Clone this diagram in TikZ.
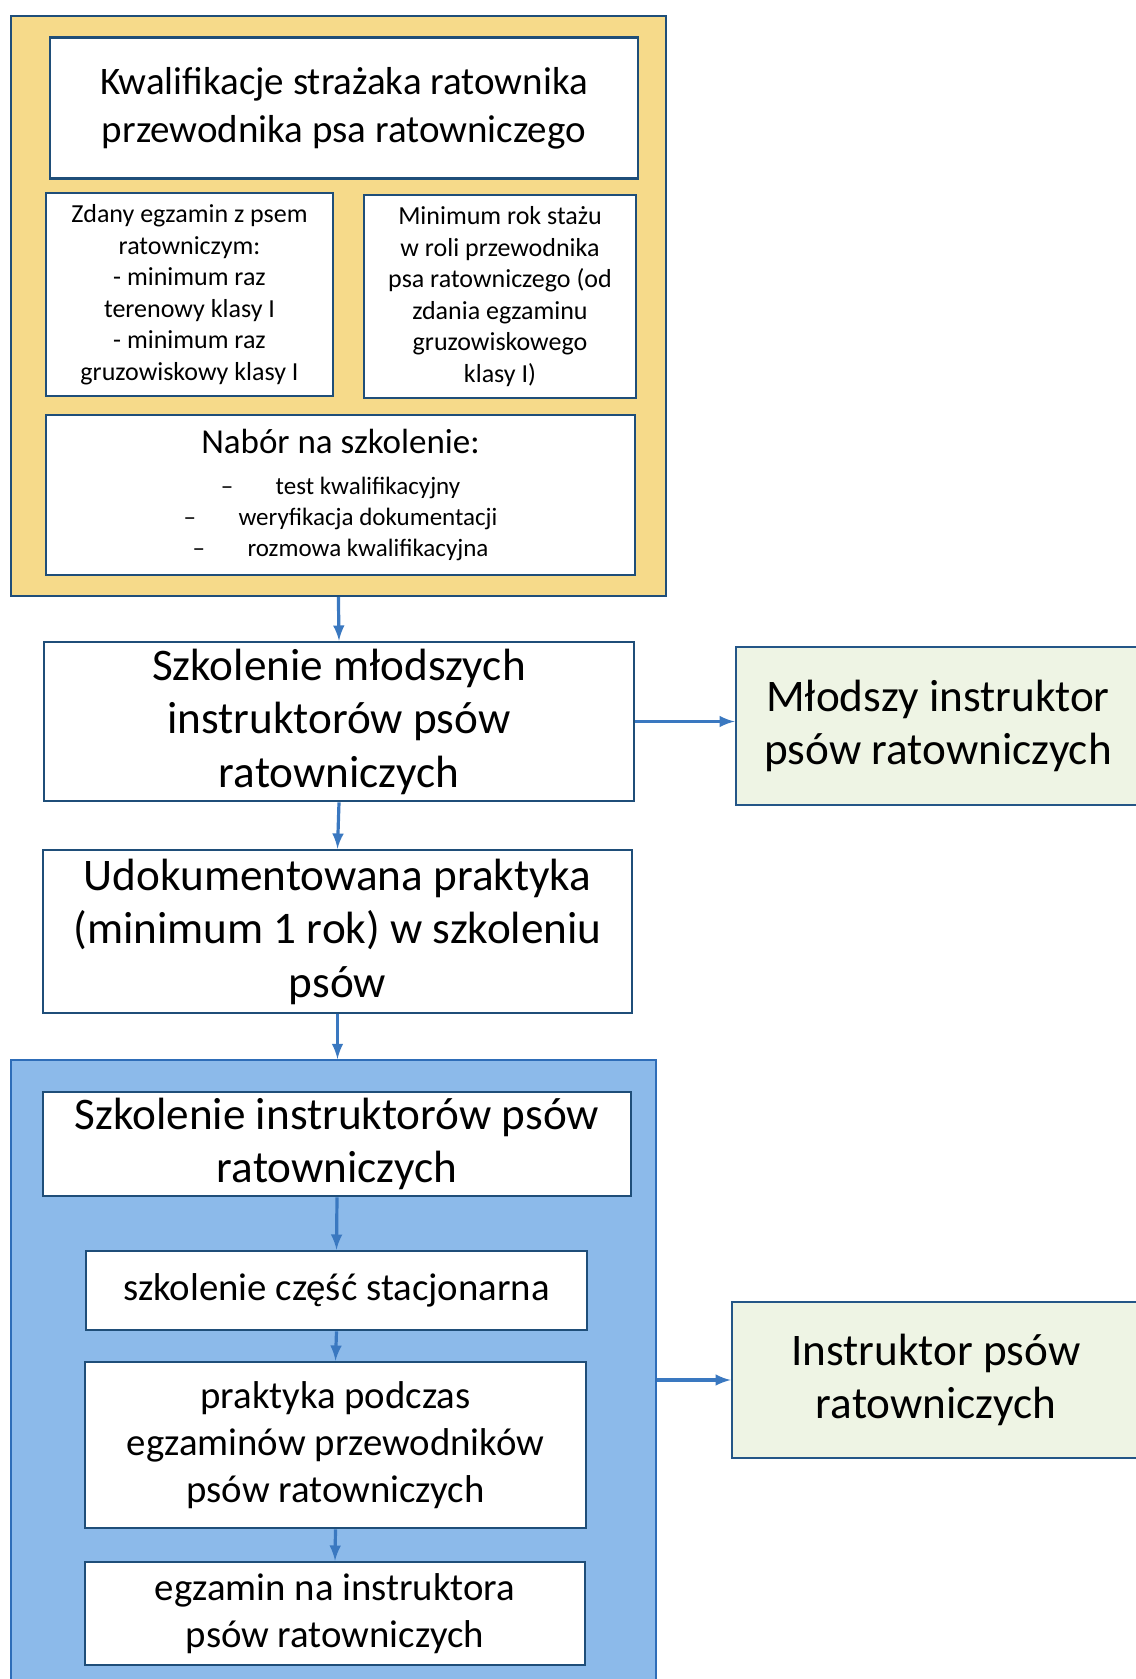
\documentclass[tikz,border=0pt]{standalone}
\usepackage{fontspec}
\setmainfont{Carlito}
\usepackage{xcolor}
\usetikzlibrary{arrows,positioning}

\definecolor{ramka}{HTML}{1F4E79}
\definecolor{zloto}{HTML}{F6DA8A}
\definecolor{niebo}{HTML}{8CBAEA}
\definecolor{zielen}{HTML}{EEF4E4}
\definecolor{strzalka}{HTML}{3A78C0}
\definecolor{modra}{HTML}{2E6DB8}

\tikzset{
  biale/.style={draw=ramka, line width=1.3pt, fill=white, align=center, inner sep=0pt},
  zielone/.style={draw=ramka!80!strzalka, line width=1.3pt, fill=zielen, align=center, inner sep=0pt},
  zolta/.style={draw=ramka, line width=1pt, fill=zloto, inner sep=0pt},
  niebieska/.style={draw=modra, line width=1pt, fill=niebo, inner sep=0pt},
  strz/.style={-latex, line width=1.6pt, draw=strzalka},
  duzy/.style={font=\fontsize{22.6}{26.75}\selectfont},
  sredni/.style={font=\fontsize{19.4}{23.5}\selectfont},
  maly/.style={font=\fontsize{13}{15.75}\selectfont}
}

\begin{document}
\begin{tikzpicture}[x=0.5pt, y=-0.5pt]
\useasboundingbox (0,0) rectangle (1135,1679);

% ramki zewnetrzne
\node[zolta, minimum width=327.6pt, minimum height=290pt] (zolty) at (338.4,306) {};
\node[niebieska, minimum width=322.6pt, minimum height=315pt] (niebieski) at (333.4,1375) {};

% kwalifikacje
\node[biale, minimum width=294pt, minimum height=70.5pt, font=\fontsize{19.5}{24}\selectfont] (kwal) at (344,108)
  {Kwalifikacje strażaka ratownika\\przewodnika psa ratowniczego};
\node[biale, maly, minimum width=143.5pt, minimum height=101.5pt] (egz) at (189.5,294.5)
  {Zdany egzamin z psem\\ratowniczym:\\- minimum raz\\terenowy klasy I\\- minimum raz\\gruzowiskowy klasy I};
\node[biale, maly, minimum width=136pt, minimum height=101.5pt] (staz) at (500,296.5)
  {Minimum rok stażu\\w roli przewodnika\\psa ratowniczego (od\\zdania egzaminu\\gruzowiskowego\\klasy I)};
\node[biale, minimum width=294.5pt, minimum height=80pt, font=\fontsize{12.5}{15.5}\selectfont] (nabor) at (340.5,495)
  {{\fontsize{17.5}{20}\selectfont Nabór na szkolenie:}\\[5pt]
   –\hspace{1.7em}test kwalifikacyjny\\
   –\hspace{1.7em}weryfikacja dokumentacji\\
   –\hspace{1.7em}rozmowa kwalifikacyjna};

% mlodszy instruktor
\node[biale, duzy, minimum width=295pt, minimum height=79.5pt] (szkml) at (339,721.5)
  {Szkolenie młodszych\\instruktorów psów\\ratowniczych};
\node[zielone, duzy, minimum width=202pt, minimum height=79pt] (mlodszy) at (938,726)
  {Młodszy instruktor\\psów ratowniczych};
\node[biale, duzy, minimum width=294.5pt, minimum height=81.5pt] (prakt) at (337.5,931.5)
  {Udokumentowana praktyka\\(minimum 1 rok) w szkoleniu\\psów};

% instruktor
\node[biale, duzy, minimum width=294pt, minimum height=52pt] (szkin) at (337,1144)
  {Szkolenie instruktorów psów\\ratowniczych};
\node[biale, sredni, minimum width=250.5pt, minimum height=39.5pt] (stacj) at (336.5,1290.5)
  {szkolenie część stacjonarna};
\node[biale, sredni, minimum width=250.5pt, minimum height=83pt] (praktyka) at (335.5,1445)
  {praktyka podczas\\egzaminów przewodników\\psów ratowniczych};
\node[biale, sredni, minimum width=250pt, minimum height=51.5pt] (egzamin) at (335,1613.5)
  {egzamin na instruktora\\psów ratowniczych};
\node[zielone, duzy, minimum width=204pt, minimum height=78pt] (instr) at (936,1380)
  {Instruktor psów\\ratowniczych};

% strzalki
\draw[strz] (zolty.south) -- (szkml.north);
\draw[strz] (szkml.east) -- (szkml.east -| mlodszy.west);
\draw[strz] (szkml.south) -- (prakt.north);
\draw[strz] (prakt.south) -- (prakt.south |- niebieski.north);
\draw[strz] (szkin.south) -- (stacj.north);
\draw[strz] (stacj.south) -- (praktyka.north);
\draw[strz] (praktyka.south) -- (egzamin.north);
\draw[strz] (instr.west -| niebieski.east) -- (instr.west);
\end{tikzpicture}
\end{document}
